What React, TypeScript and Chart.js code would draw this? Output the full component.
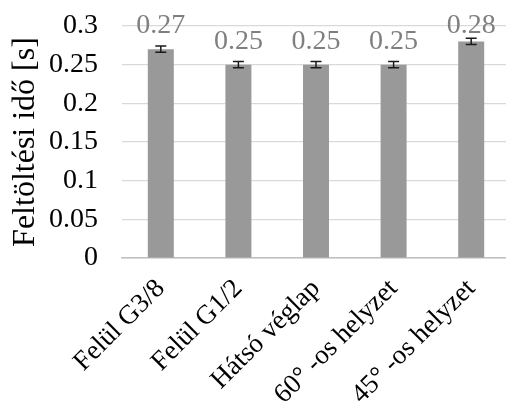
import React, { useEffect, useRef } from "react";
import { Chart, registerables } from "chart.js";

Chart.register(...registerables);

const categories = ["Felül G3/8", "Felül G1/2", "Hátsó véglap", "60° -os helyzet", "45° -os helyzet"];
const values = [0.27, 0.25, 0.25, 0.25, 0.28];
const errors = [0.004, 0.004, 0.004, 0.004, 0.004];
const yTickValues = [0, 0.05, 0.1, 0.15, 0.2, 0.25, 0.3];
const yTitle = "Feltöltési idő [s]";

const FONT = '"Liberation Serif", "Times New Roman", serif';

const errorBarPlugin = {
  id: "errorBars",
  afterDatasetsDraw(chart: any) {
    const { ctx } = chart;
    const yScale = chart.scales.y;
    const meta = chart.getDatasetMeta(0);
    ctx.save();
    ctx.strokeStyle = "#1a1a1a";
    ctx.lineWidth = 1.5;
    meta.data.forEach((bar: any, i: number) => {
      const top = yScale.getPixelForValue(values[i] + errors[i]);
      const bot = yScale.getPixelForValue(values[i] - errors[i]);
      const x = bar.x;
      const cap = 5.5;
      ctx.beginPath();
      ctx.moveTo(x, top);
      ctx.lineTo(x, bot);
      ctx.moveTo(x - cap, top);
      ctx.lineTo(x + cap, top);
      ctx.moveTo(x - cap, bot);
      ctx.lineTo(x + cap, bot);
      ctx.stroke();
    });
    ctx.restore();
  },
};

const valueLabelPlugin = {
  id: "valueLabels",
  afterDatasetsDraw(chart: any) {
    const { ctx, chartArea } = chart;
    const meta = chart.getDatasetMeta(0);
    ctx.save();
    ctx.font = `28px ${FONT}`;
    ctx.fillStyle = "#7f7f7f";
    ctx.textAlign = "center";
    ctx.textBaseline = "alphabetic";
    meta.data.forEach((bar: any, i: number) => {
      const y = Math.max(bar.y - 16, chartArea.top + 7);
      ctx.fillText(values[i].toFixed(2), bar.x, y);
    });
    ctx.restore();
  },
};

export default function App() {
  const canvasRef = useRef<HTMLCanvasElement | null>(null);

  useEffect(() => {
    if (!canvasRef.current) return;
    const chart = new Chart(canvasRef.current, {
      type: "bar",
      data: {
        labels: categories,
        datasets: [
          {
            data: values,
            backgroundColor: "#999999",
            borderWidth: 0,
            barPercentage: 0.335,
            categoryPercentage: 1,
          },
        ],
      },
      options: {
        animation: false,
        responsive: false,
        devicePixelRatio: 1,
        layout: { padding: { top: 26, left: 0, right: 0, bottom: 0 } },
        plugins: {
          legend: { display: false },
          tooltip: { enabled: false },
        },
        scales: {
          x: {
            grid: { display: false },
            border: { display: true, color: "#bfbfbf", width: 1.5 },
            ticks: {
              color: "#000000",
              font: { family: FONT, size: 27 },
              maxRotation: 45,
              minRotation: 45,
              autoSkip: false,
              padding: 7,
            },
            afterFit(scale: any) {
              scale.height = 145;
              scale.paddingLeft = 0;
              scale.paddingRight = 0;
            },
          },
          y: {
            min: 0,
            max: 0.3,
            afterBuildTicks(scale: any) {
              scale.ticks = yTickValues.map((v) => ({ value: v }));
            },
            grid: { color: "#d9d9d9", lineWidth: 1.2, drawTicks: false },
            border: { display: false },
            ticks: {
              color: "#000000",
              font: { family: FONT, size: 28 },
              padding: 24,
              callback: (v: any) => String(Number(Number(v).toFixed(2))),
            },
            title: {
              display: true,
              text: yTitle,
              color: "#000000",
              font: { family: FONT, size: 32 },
              padding: { top: 6, bottom: 0 },
            },
            afterFit(scale: any) {
              scale.width = 122;
              scale.paddingTop = 0;
              scale.paddingBottom = 0;
            },
          },
        },
      },
      plugins: [errorBarPlugin, valueLabelPlugin],
    });
    return () => chart.destroy();
  }, []);

  return (
    <div style={{ position: "absolute", left: 0, top: 0, width: 506, height: 403, overflow: "hidden", background: "#ffffff" }}>
      <canvas ref={canvasRef} width={510} height={403} style={{ display: "block" }} />
    </div>
  );
}
